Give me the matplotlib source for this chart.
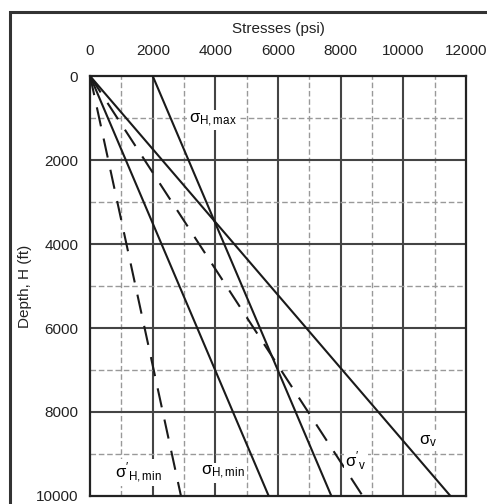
import matplotlib
matplotlib.use("Agg")
import matplotlib.pyplot as plt
from matplotlib.patches import Rectangle

plt.rcParams['font.family'] = ['Liberation Sans', 'DejaVu Sans']
plt.rcParams['mathtext.fontset'] = 'custom'
plt.rcParams['mathtext.rm'] = 'Liberation Sans'
plt.rcParams['mathtext.it'] = 'Liberation Sans'
plt.rcParams['lines.scale_dashes'] = False

# depth (ft) at the two ends of each straight line
depth = [0, 10000]
sigma_v = [0, 11500]
sigma_hmax = [2000, 7700]
sigma_hmin = [0, 5700]
sigma_v_eff = [0, 8700]
sigma_hmin_eff = [0, 2900]

x_ticks = [0, 2000, 4000, 6000, 8000, 10000, 12000]
y_ticks = [0, 2000, 4000, 6000, 8000, 10000]

fig = plt.figure(figsize=(4.87, 5.04), dpi=100)
ax = fig.add_axes([0.185, 0.016, 0.772, 0.833])

# outer frame of the scanned figure
fig.patches.append(Rectangle((10 / 487, -0.1), 1.0, 1 - 12 / 504 + 0.1,
                             transform=fig.transFigure, fill=False,
                             edgecolor='#333333', linewidth=2.2))

# grid: solid every 2000, dashed every 1000
for v in range(1000, 12000, 1000):
    if v % 2000 == 0:
        ax.axvline(v, color='#444444', lw=1.5, zorder=1)
    else:
        ax.axvline(v, color='#999999', lw=1.0, ls=(0, (4, 2)), zorder=1)
for h in range(1000, 10000, 1000):
    if h % 2000 == 0:
        ax.axhline(h, color='#444444', lw=1.5, zorder=1)
    else:
        ax.axhline(h, color='#999999', lw=1.0, ls=(0, (4, 2)), zorder=1)

lc = '#1a1a1a'
ax.plot(sigma_v, depth, color=lc, lw=1.5, zorder=3)
ax.plot(sigma_hmax, depth, color=lc, lw=1.5, zorder=3)
ax.plot(sigma_hmin, depth, color=lc, lw=1.5, zorder=3)
ax.plot(sigma_v_eff, depth, color=lc, lw=1.5, dashes=(14, 9), zorder=3)
ax.plot(sigma_hmin_eff, depth, color=lc, lw=1.5, dashes=(14, 9), zorder=3)

box = dict(facecolor='white', edgecolor='none', pad=1)
ax.text(3150, 1050, r"$\mathrm{\sigma_{H,max}}$", fontsize=12, ha='left', va='center', bbox=box, zorder=4)
ax.text(10500, 8700, r"$\mathrm{\sigma_{v}}$", fontsize=12, ha='left', va='center', bbox=box, zorder=4)
ax.text(8150, 9150, r"$\mathrm{\sigma'_{v}}$", fontsize=12, ha='left', va='center', bbox=box, zorder=4)
ax.text(800, 9450, r"$\mathrm{\sigma'_{H,min}}$", fontsize=12, ha='left', va='center', bbox=box, zorder=4)
ax.text(3550, 9450, r"$\mathrm{\sigma_{H,min}}$", fontsize=12, ha='left', va='center', bbox=box, zorder=4)

ax.set_xlim(0, 12000)
ax.set_ylim(10000, 0)
ax.xaxis.tick_top()
ax.xaxis.set_label_position('top')
ax.set_xticks(x_ticks)
ax.set_yticks(y_ticks)
ax.tick_params(axis='x', length=0, pad=13, labelsize=11, labelcolor='#222222')
ax.tick_params(axis='y', length=0, pad=8.5, labelsize=11, labelcolor='#222222')
ax.set_xlabel("Stresses (psi)", fontsize=11, labelpad=8, color='#222222')
ax.set_ylabel("Depth, H (ft)", fontsize=11, labelpad=3, color='#222222')
for s in ax.spines.values():
    s.set_color('#222222')
    s.set_linewidth(1.6)

plt.savefig("out.png", dpi=100)
